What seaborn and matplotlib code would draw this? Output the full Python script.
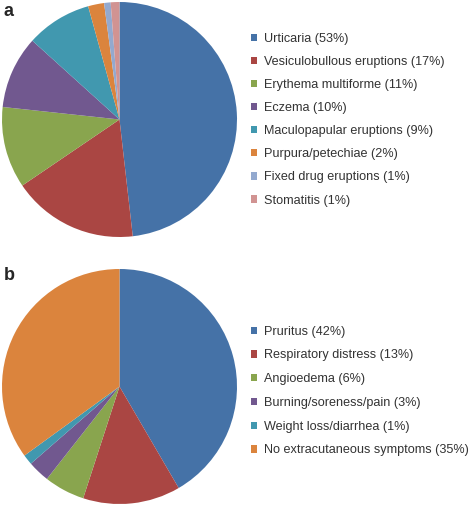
import matplotlib
matplotlib.use("Agg")
import matplotlib.pyplot as plt
from matplotlib.patches import Patch
import seaborn as sns

# Panel a: cutaneous reactions
skin_labels = ["Urticaria", "Vesiculobullous eruptions", "Erythema multiforme",
               "Eczema", "Maculopapular eruptions", "Purpura/petechiae",
               "Fixed drug eruptions", "Stomatitis"]
skin_pct = [53, 17, 11, 10, 9, 2, 1, 1]          # as printed in legend
skin_share = [48.2, 17.3, 11.2, 10.0, 9.0, 2.2, 0.9, 1.2]  # wedge sizes as drawn
skin_colors = ["#4572A7", "#AA4643", "#89A54E", "#71588F",
               "#4198AF", "#DB843D", "#93A9CF", "#D19392"]

# Panel b: extracutaneous symptoms
extra_labels = ["Pruritus", "Respiratory distress", "Angioedema",
                "Burning/soreness/pain", "Weight loss/diarrhea",
                "No extracutaneous symptoms"]
extra_pct = [42, 13, 6, 3, 1, 35]
extra_share = [41.6, 13.4, 5.6, 3.0, 1.4, 35.0]
extra_colors = ["#4572A7", "#AA4643", "#89A54E", "#71588F", "#4198AF", "#DB843D"]


def main():
    sns.set_theme(style="white")
    plt.rcParams["font.family"] = ["Liberation Sans", "DejaVu Sans"]

    W, H = 472, 505
    fig = plt.figure(figsize=(W / 100, H / 100), dpi=100)

    def px_axes(x0, y0, x1, y1):
        # pixel box (top-left origin) -> figure fraction
        return fig.add_axes([x0 / W, 1 - y1 / H, (x1 - x0) / W, (y1 - y0) / H])

    panels = [
        (skin_labels, skin_pct, skin_share, skin_colors,
         (2, 2, 237, 237), "a", 11, 32.7, 0.88),
        (extra_labels, extra_pct, extra_share, extra_colors,
         (2, 269, 237, 504), "b", 276, 325.7, 0.93),
    ]

    for labels, pct, share, colors, box, tag, tag_y, leg_y, spacing in panels:
        ax = px_axes(*box)
        ax.pie(share, colors=colors, startangle=90, counterclock=False,
               wedgeprops=dict(linewidth=0))
        ax.set_xlim(-1, 1)
        ax.set_ylim(-1, 1)
        ax.set_aspect("equal")
        ax.axis("off")

        fig.text(4 / W, 1 - tag_y / H, tag, fontsize=13, fontweight="bold",
                 va="center", ha="left")

        handles = [Patch(facecolor=c, edgecolor="none") for c in colors]
        texts = [f"{l} ({p}%)" for l, p in zip(labels, pct)]
        fig.legend(handles, texts, loc="upper left",
                   bbox_to_anchor=(251 / W, 1 - leg_y / H),
                   bbox_transform=fig.transFigure, frameon=False,
                   fontsize=9.1, labelspacing=spacing, handlelength=0.5,
                   handleheight=0.5, handletextpad=0.5, borderpad=0,
                   borderaxespad=0, labelcolor="#333333")

    fig.savefig("out.png", dpi=100, facecolor="white")


if __name__ == "__main__":
    main()
